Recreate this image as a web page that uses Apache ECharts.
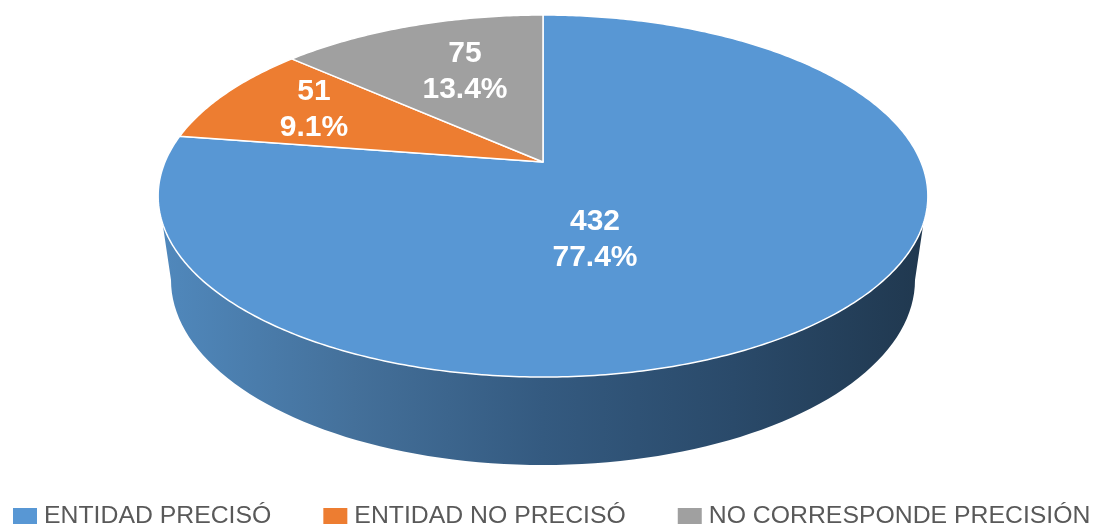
<!DOCTYPE html>
<html>
<head>
<meta charset="utf-8">
<style>html,body{margin:0;padding:0;background:#fff}#c{width:1096px;height:524px}</style>
<script src="https://cdn.jsdelivr.net/npm/echarts@6/dist/echarts.min.js"></script>
</head>
<body>
<div id="c"></div>
<script>
const categories = ['ENTIDAD PRECISÓ', 'ENTIDAD NO PRECISÓ', 'NO CORRESPONDE PRECISIÓN'];
const values = [432, 51, 75];
const colors = ['#5897D4', '#ED7D31', '#A0A0A0'];
const labelSpots = [[595, 240], [314, 110], [465, 72]];

const total = values.reduce((a, b) => a + b, 0);
const apex = { x: 543, y: 162 };
const persp = 0.188, sx = 378, sy = 174.6;
const base = { x: 543, y: 280, a: 372, b: 185 };

function project(deg) {
  const t = deg * Math.PI / 180, X = Math.sin(t), Y = Math.cos(t), w = 1 + persp * Y;
  return [apex.x + sx * X / w, apex.y - sy * Y / w];
}
function arc(from, to) {
  const pts = [], n = Math.max(2, Math.ceil(Math.abs(to - from) * 1.5));
  for (let i = 0; i <= n; i++) pts.push(project(from + (to - from) * i / n));
  return pts;
}
function wallPoints() {
  // front edge of the top face, right to left, then the base ellipse, left to right
  const top = arc(100, 260).filter(p => p[1] >= 222);
  const bottom = [];
  for (let i = 0; i <= 180; i += 2) {
    const t = i * Math.PI / 180;
    bottom.push([base.x - base.a * Math.cos(t), base.y + base.b * Math.sin(t)]);
  }
  return top.concat(bottom);
}
function startAngle(idx) {
  let s = 0;
  for (let i = 0; i < idx; i++) s += values[i];
  return s / total * 360;
}

const series = categories.map((name, idx) => ({
  name,
  type: 'custom',
  coordinateSystem: 'none',
  silent: true,
  z: 2 + idx,
  itemStyle: { color: colors[idx] },
  data: [{ name, value: [values[idx]] }],
  renderItem: (params, api) => {
    const v = api.value(0);
    const a0 = startAngle(idx), a1 = a0 + v / total * 360;
    const children = [];
    if (idx === 0) {
      children.push({
        type: 'polygon',
        shape: { points: wallPoints() },
        style: {
          fill: new echarts.graphic.LinearGradient(0, 0, 1, 0, [
            { offset: 0, color: '#5088BC' },
            { offset: 0.25, color: '#44709A' },
            { offset: 0.5, color: '#345A80' },
            { offset: 0.75, color: '#2A4A6A' },
            { offset: 1, color: '#20384F' }
          ])
        }
      });
    }
    children.push({
      type: 'polygon',
      shape: { points: [[apex.x, apex.y]].concat(arc(a0, a1)) },
      style: { fill: colors[idx], stroke: '#fff', lineWidth: 1.5, lineJoin: 'round' }
    });
    children.push({
      type: 'text',
      z2: 10,
      style: {
        x: labelSpots[idx][0], y: labelSpots[idx][1],
        text: v + '\n' + (v / total * 100).toFixed(1) + '%',
        fill: '#fff',
        font: 'bold 30px "Liberation Sans", Arial, sans-serif',
        lineHeight: 36,
        textAlign: 'center',
        textVerticalAlign: 'middle'
      }
    });
    return { type: 'group', children };
  }
}));

const chart = echarts.init(document.getElementById('c'), null, { renderer: 'canvas' });
chart.setOption({
  animation: false,
  backgroundColor: '#fff',
  legend: {
    data: categories,
    left: 8,
    top: 499,
    width: 1300,
    padding: 5,
    itemGap: 52,
    itemWidth: 24,
    itemHeight: 17,
    icon: 'rect',
    selectedMode: false,
    textStyle: { color: '#595959', fontSize: 24.8, fontFamily: '"Liberation Sans", Arial, sans-serif', padding: [0, 0, 0, 2] }
  },
  series
});
</script>
</body>
</html>
